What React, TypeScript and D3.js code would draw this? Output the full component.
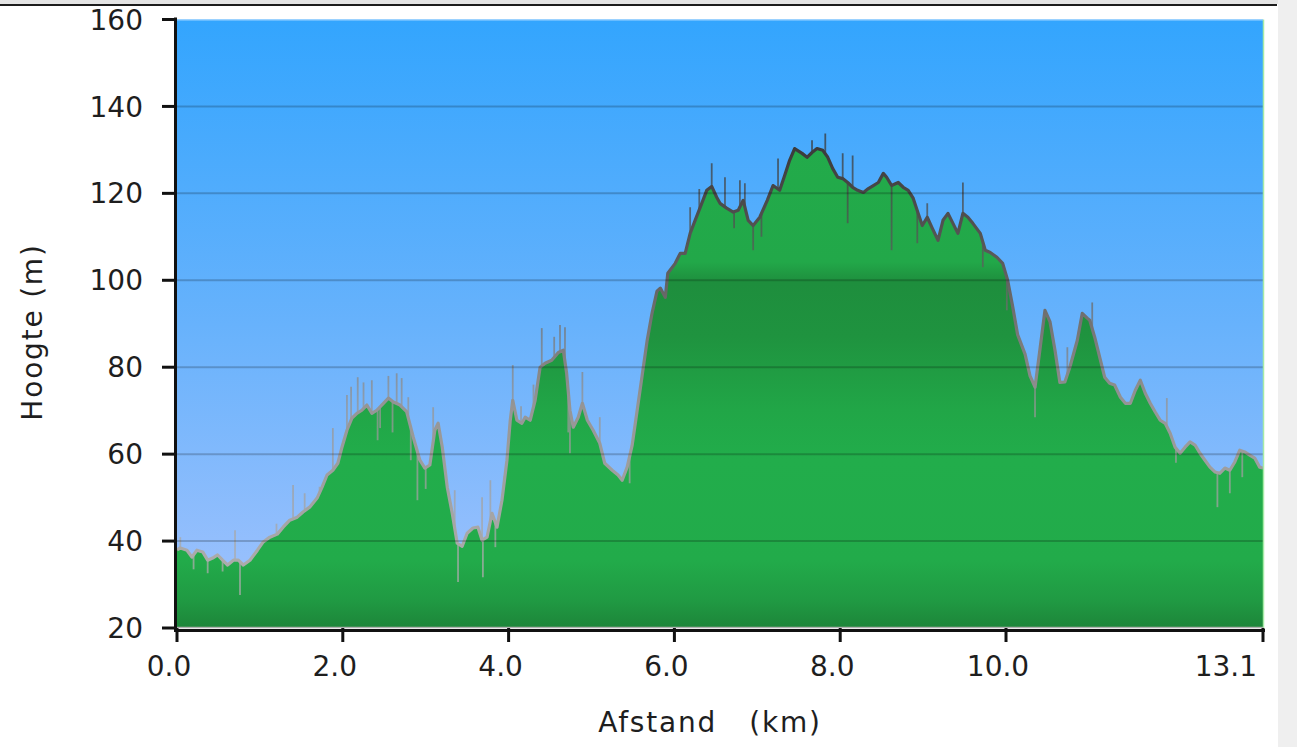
import React from 'react';
import * as d3 from 'd3';

// Elevation profile: distance (km) and height (m)
const distanceKm = [
  0.0, 0.04, 0.12, 0.18, 0.24, 0.31, 0.37, 0.43, 0.49, 0.55, 0.61, 0.68, 0.74, 0.8, 0.88, 0.97,
  1.04, 1.12, 1.21, 1.28, 1.36, 1.45, 1.52, 1.6, 1.69, 1.75, 1.81, 1.88, 1.94, 1.99,
  2.05, 2.11, 2.17, 2.23, 2.29, 2.35, 2.41, 2.49, 2.55, 2.61, 2.69, 2.77, 2.85, 2.93, 2.99,
  3.05, 3.11, 3.15, 3.2, 3.26, 3.32, 3.38, 3.44, 3.5, 3.57, 3.63, 3.68, 3.74, 3.8, 3.86, 3.92, 3.98,
  4.02, 4.05, 4.1, 4.16, 4.2, 4.26, 4.32, 4.38, 4.44, 4.52, 4.6, 4.66, 4.7, 4.74, 4.78, 4.84, 4.89, 4.95,
  5.02, 5.1, 5.16, 5.25, 5.32, 5.37, 5.43, 5.49, 5.55, 5.61, 5.67, 5.73, 5.79, 5.83, 5.89, 5.92,
  6.01, 6.07, 6.13, 6.19, 6.25, 6.33, 6.39, 6.45, 6.51, 6.55, 6.63, 6.71, 6.77, 6.83, 6.89, 6.95,
  7.03, 7.12, 7.19, 7.27, 7.33, 7.39, 7.45, 7.54, 7.6, 7.66, 7.72, 7.79, 7.85, 7.91, 7.97,
  8.03, 8.09, 8.15, 8.21, 8.28, 8.34, 8.4, 8.46, 8.52, 8.56, 8.62, 8.7, 8.76, 8.82, 8.88, 8.94, 8.99,
  9.05, 9.11, 9.18, 9.24, 9.3, 9.36, 9.42, 9.48, 9.54, 9.6, 9.69, 9.75, 9.81, 9.89, 9.96,
  10.02, 10.08, 10.14, 10.23, 10.29, 10.35, 10.41, 10.47, 10.53, 10.59, 10.65, 10.71, 10.77, 10.86, 10.92, 10.98,
  11.01, 11.07, 11.13, 11.19, 11.25, 11.31, 11.38, 11.44, 11.5, 11.56, 11.62, 11.68, 11.74, 11.8, 11.86, 11.92, 11.98,
  12.04, 12.1, 12.16, 12.22, 12.28, 12.34, 12.4, 12.46, 12.52, 12.58, 12.64, 12.7, 12.76, 12.82, 12.88, 12.94,
  13.0, 13.06, 13.1,
];
const elevationM = [
  38.0, 38.4, 37.9, 36.3, 37.9, 37.5, 35.6, 36.1, 36.8, 35.6, 34.5, 35.6, 35.6, 34.5, 35.6, 37.9,
  39.8, 40.9, 41.6, 43.2, 44.8, 45.5, 46.7, 47.8, 49.9, 52.4, 55.2, 56.3, 57.9, 61.6,
  65.5, 68.3, 69.4, 70.1, 71.3, 69.4, 70.1, 71.7, 72.9, 72.0, 71.3, 69.8, 63.9, 58.6, 56.8,
  57.5, 65.5, 67.1, 61.6, 52.4, 46.4, 39.5, 38.8, 41.8, 43.0, 43.2, 40.2, 40.9, 46.4, 43.2, 49.4, 58.6,
  67.8, 72.4, 67.8, 67.1, 68.5, 67.8, 72.4, 80.0, 80.9, 81.6, 83.4, 83.9, 78.6, 70.1, 66.2, 68.5, 71.7, 67.8,
  65.5, 62.5, 57.9, 56.3, 55.2, 54.0, 57.0, 62.0, 70.0, 78.0, 86.0, 92.4, 97.5, 98.2, 96.1, 101.6,
  103.9, 106.2, 106.2, 110.8, 113.8, 117.7, 120.7, 121.6, 119.1, 117.7, 116.6, 115.7, 116.1, 118.4, 113.8, 112.6,
  114.5, 118.4, 121.8, 120.7, 124.1, 127.6, 130.3, 129.2, 128.3, 129.4, 130.3, 129.9, 128.3, 125.7, 123.7,
  123.4, 122.5, 121.4, 120.7, 120.2, 121.1, 121.8, 122.5, 124.6, 123.7, 121.8, 122.5, 121.4, 120.7, 118.9, 115.4, 112.6,
  114.5, 112.0, 109.2, 113.8, 115.4, 113.1, 110.8, 115.4, 114.5, 113.1, 110.8, 106.9, 106.4, 105.3, 103.9,
  100.0, 94.0, 87.5, 83.0, 78.0, 75.4, 84.2, 93.1, 90.5, 84.0, 76.5, 76.6, 80.0, 86.2, 92.4, 91.3,
  90.8, 86.9, 82.3, 77.7, 76.3, 75.9, 73.1, 71.7, 71.7, 74.7, 77.0, 74.0, 71.7, 69.7, 67.8, 67.1, 64.8,
  61.6, 60.2, 61.6, 62.8, 62.1, 60.2, 58.6, 57.0, 55.9, 55.6, 56.8, 56.3, 58.2, 60.9, 60.5, 59.8,
  59.1, 57.0, 56.8,
];

// Raw GPS noise spikes: distance (km) and spike tip height (m)
const spikeKm = [
  0.04, 0.2, 0.37, 0.55, 0.7, 0.76, 1.2, 1.4, 1.54, 1.72, 1.88, 2.05, 2.1, 2.18, 2.25, 2.35, 2.42, 2.45,
  2.55, 2.6, 2.65, 2.71, 2.79, 2.82, 2.9, 3.0,
  3.09, 3.35, 3.39, 3.68, 3.69, 3.78, 3.84, 3.95, 4.05, 4.15, 4.3, 4.4, 4.55, 4.62, 4.68, 4.72, 4.74, 4.89,
  5.1, 5.46, 6.19, 6.3, 6.45, 6.61, 6.72, 6.79, 6.85, 6.95, 7.05, 7.25, 7.66, 7.82, 8.03, 8.09, 8.15,
  8.62, 8.93, 9.05, 9.48, 9.72, 10.01, 10.35, 10.74, 11.04, 11.94, 12.05, 12.55, 12.7, 12.85,
];
const spikeM = [
  40.9, 33.5, 32.6, 33.0, 42.5, 27.6, 44.0, 52.9, 51.0, 52.5, 66.0, 73.6, 75.5, 77.7, 76.5, 77.0, 63.2, 66.0,
  78.0, 65.0, 78.6, 77.5, 73.1, 58.6, 49.4, 52.0,
  70.8, 51.7, 30.6, 50.1, 31.7, 54.0, 38.6, 55.0, 80.5, 71.0, 76.0, 89.0, 87.0, 89.7, 89.2, 65.0, 60.2, 78.9,
  68.5, 53.3, 116.8, 121.0, 126.9, 123.7, 112.0, 123.0, 122.3, 106.9, 110.0, 128.0, 132.2, 133.8, 129.2, 113.1, 128.7,
  106.9, 108.5, 117.7, 122.5, 103.0, 93.1, 68.5, 84.6, 94.9, 72.9, 58.0, 47.8, 51.0, 54.7,
];

const xTickValues = [0, 2, 4, 6, 8, 10, 13.1];
const xTickLabels = ['0.0', '2.0', '4.0', '6.0', '8.0', '10.0', '13.1'];
const yTickValues = [20, 40, 60, 80, 100, 120, 140, 160];
const yGridValues = [40, 60, 80, 100, 120, 140];
const yTitle = 'Hoogte (m)';
const xTitle = 'Afstand   (km)';

const W = 1297;
const H = 747;
const FONT = '"DejaVu Sans", Verdana, sans-serif';

export default function App() {
  const x = d3.scaleLinear().domain([0, 13.1]).range([177, 1263]);
  const y = d3.scaleLinear().domain([20, 160]).range([628, 19.5]);
  const [x0, x1] = x.range();
  const [yb, yt] = y.range();

  const pts: [number, number][] = distanceKm.map((d, i) => [d, elevationM[i]]);
  const areaPath = d3
    .area<[number, number]>()
    .x((d) => x(d[0]))
    .y0(yb)
    .y1((d) => y(d[1]))(pts) as string;
  const linePath = d3
    .line<[number, number]>()
    .x((d) => x(d[0]))
    .y((d) => y(d[1]))(pts) as string;

  const bis = d3.bisector((d: number) => d).left;
  const interp = (k: number) => {
    const i = Math.max(1, Math.min(distanceKm.length - 1, bis(distanceKm, k)));
    const a = distanceKm[i - 1];
    const b = distanceKm[i];
    const t = b === a ? 0 : (k - a) / (b - a);
    return elevationM[i - 1] + t * (elevationM[i] - elevationM[i - 1]);
  };

  const off = (yy: number) => (yy - yt) / (yb - yt);

  return (
    <div style={{ position: 'absolute', left: 0, top: 0 }}>
      <svg width={W} height={H} style={{ display: 'block', background: '#ffffff' }}>
        <defs>
          <linearGradient id="sky" gradientUnits="userSpaceOnUse" x1={0} y1={yt} x2={0} y2={yb}>
            <stop offset={0} stopColor="#33a5fe" />
            <stop offset={0.5} stopColor="#67b2fc" />
            <stop offset={1} stopColor="#a4c3fd" />
          </linearGradient>
          <linearGradient id="land" gradientUnits="userSpaceOnUse" x1={0} y1={yt} x2={0} y2={yb}>
            <stop offset={0} stopColor="#23ae4c" />
            <stop offset={off(262)} stopColor="#22a849" />
            <stop offset={off(282)} stopColor="#1e8e3d" />
            <stop offset={off(336)} stopColor="#1f933f" />
            <stop offset={off(410)} stopColor="#21a647" />
            <stop offset={off(460)} stopColor="#22ad4b" />
            <stop offset={off(560)} stopColor="#22ab4a" />
            <stop offset={off(600)} stopColor="#209a43" />
            <stop offset={1} stopColor="#1d8539" />
          </linearGradient>
          <linearGradient id="edge" gradientUnits="userSpaceOnUse" x1={0} y1={120} x2={0} y2={560}>
            <stop offset={0} stopColor="#333333" />
            <stop offset={0.35} stopColor="#5f5f5f" />
            <stop offset={0.65} stopColor="#959595" />
            <stop offset={1} stopColor="#ababab" />
          </linearGradient>
          <clipPath id="plot">
            <rect x={x0} y={yt} width={x1 - x0} height={yb - yt} />
          </clipPath>
        </defs>

        {/* page frame */}
        <rect x={1278} y={0} width={W - 1278} height={H} fill="#efefef" />
        <rect x={0} y={0} width={1278} height={4} fill="#e4e4e4" />
        <line x1={0} x2={1277} y1={5} y2={5} stroke="#1c1c1c" strokeWidth={2} />

        {/* plot background */}
        <rect x={x0} y={yt} width={x1 - x0} height={yb - yt} fill="url(#sky)" />
        <line x1={x0} x2={x1} y1={yt + 0.5} y2={yt + 0.5} stroke="#9ed3ff" strokeWidth={1} />

        <g clipPath="url(#plot)">
          <path d={areaPath} fill="url(#land)" />
          {spikeKm.map((k, i) => (
            <line
              key={i}
              x1={x(k)}
              x2={x(k)}
              y1={y(interp(k))}
              y2={y(spikeM[i])}
              stroke="url(#edge)"
              strokeWidth={1.8}
              strokeOpacity={0.75}
            />
          ))}
          <path d={linePath} fill="none" stroke="url(#edge)" strokeWidth={3.2} strokeLinejoin="round" />
          {yGridValues.map((v) => (
            <line key={v} x1={x0} x2={x1} y1={y(v)} y2={y(v)} stroke="rgba(0,0,0,0.2)" strokeWidth={2} />
          ))}
        </g>

        <line x1={x1 + 0.5} x2={x1 + 0.5} y1={yt} y2={yb} stroke="#a6eaa6" strokeWidth={1.5} />
        <line x1={x0} x2={x1} y1={yb - 0.5} y2={yb - 0.5} stroke="#b0b0b0" strokeWidth={1.5} />

        {/* axes */}
        <line x1={175.5} x2={175.5} y1={yt - 2} y2={yb + 4} stroke="#111" strokeWidth={3} />
        <line x1={174} x2={x1 + 2} y1={yb + 2.5} y2={yb + 2.5} stroke="#111" strokeWidth={3} />
        {yTickValues.map((v) => (
          <g key={v}>
            <line x1={162} x2={176} y1={y(v)} y2={y(v)} stroke="#111" strokeWidth={3} />
            <text
              x={143}
              y={y(v)}
              dy="0.36em"
              textAnchor="end"
              fontFamily={FONT}
              fontSize={28}
              fill="#1e1e1e"
            >
              {v}
            </text>
          </g>
        ))}
        {xTickValues.map((v, i) => {
          const last = i === xTickValues.length - 1;
          return (
            <g key={v}>
              <line x1={x(v)} x2={x(v)} y1={yb} y2={yb + 14} stroke="#111" strokeWidth={3} />
              <text
                x={last ? x(v) - 6 : x(v) - 8}
                y={676}
                textAnchor={last ? 'end' : 'middle'}
                fontFamily={FONT}
                fontSize={28}
                fill="#1e1e1e"
              >
                {xTickLabels[i]}
              </text>
            </g>
          );
        })}

        {/* axis titles */}
        <text
          transform={`translate(42, 332) rotate(-90)`}
          textAnchor="middle"
          fontFamily={FONT}
          fontSize={28}
          letterSpacing={1.8}
          fill="#1e1e1e"
        >
          {yTitle}
        </text>
        <text
          x={710}
          y={732}
          textAnchor="middle"
          fontFamily={FONT}
          fontSize={28}
          letterSpacing={1.8}
          fill="#1e1e1e"
          style={{ whiteSpace: 'pre' }}
        >
          {xTitle}
        </text>
      </svg>
    </div>
  );
}
